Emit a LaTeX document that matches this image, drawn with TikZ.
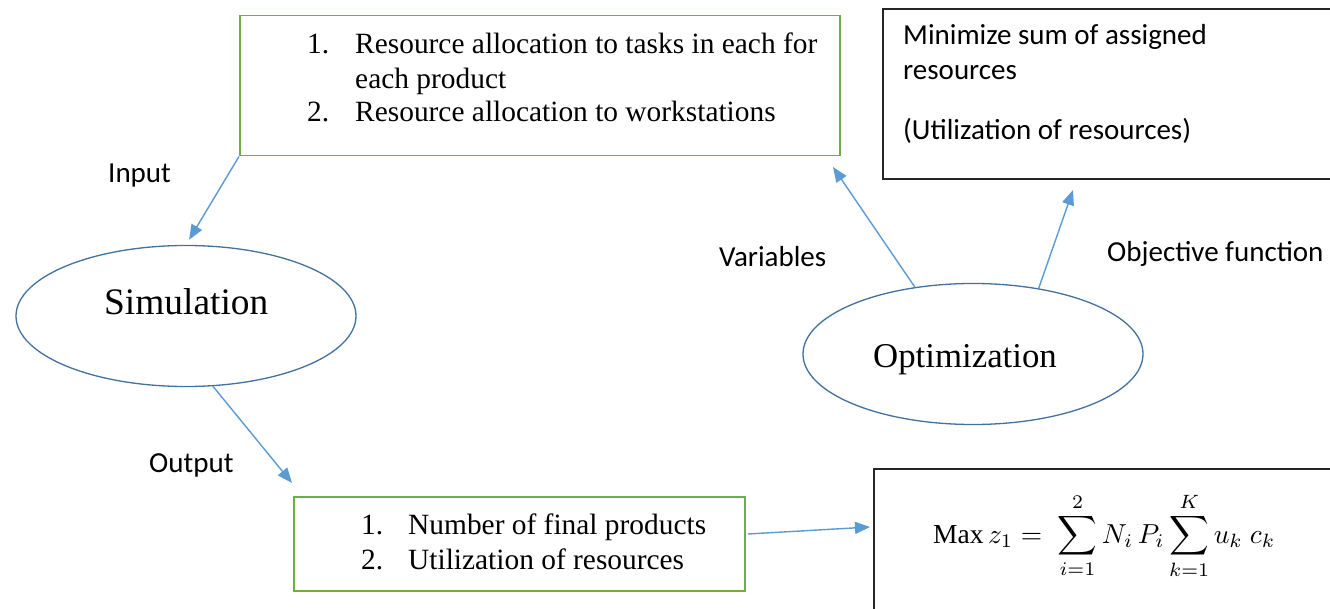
\documentclass[tikz,border=0pt]{standalone}
\usepackage{fontspec}
\setmainfont{Liberation Serif}
\newfontfamily\carlito{Carlito}
\usetikzlibrary{shapes.geometric,arrows.meta}
\definecolor{boxgreen}{RGB}{112,173,71}
\definecolor{arrblue}{RGB}{91,155,213}
\definecolor{ellblue}{RGB}{65,113,156}
\tikzset{
  greenbox/.style={draw=boxgreen, line width=1.5pt, rectangle, inner sep=0pt, anchor=north west},
  blackbox/.style={draw=black!85, line width=1.8pt, rectangle, inner sep=0pt, anchor=north west},
  ell/.style={draw=ellblue, line width=1.3pt, ellipse, inner sep=0pt, minimum width=340pt, minimum height=141pt},
  arr/.style={draw=arrblue, line width=1.4pt, -{Triangle[length=15pt,width=12pt]}},
  serif/.style={font=\fontsize{29.4}{35}\selectfont, inner sep=0pt, anchor=base west},
  sans/.style={font=\carlito\fontsize{29}{35}\selectfont, inner sep=0pt, anchor=base west},
  bigsim/.style={font=\fontsize{37.4}{44}\selectfont, inner sep=0pt, anchor=base west},
  bigopt/.style={font=\fontsize{34.8}{44}\selectfont, inner sep=0pt, anchor=base west},
}
\begin{document}
\begin{tikzpicture}[x=1pt,y=-1pt]
\useasboundingbox (0,0) rectangle (1330,609);
\clip (0,0) rectangle (1330,609);
\fill[white] (0,0) rectangle (1330,609);

% boxes
\node[greenbox, minimum width=600pt, minimum height=140pt] (varbox) at (239,15) {};
\node[blackbox, minimum width=500pt, minimum height=170pt] (objbox) at (882,8) {};
\node[greenbox, minimum width=451pt, minimum height=94pt] (outbox) at (293,496) {};
\node[blackbox, minimum width=600pt, minimum height=300pt] (formbox) at (873,468) {};

% ellipses
\node[ell] (sim) at (186,316) {};
\node[ell] (opt) at (973,354) {};

% texts in top green box
\node[serif] (v1n) at (307,54) {1.};
\node[serif] (v1t) at (355,54) {Resource allocation to tasks in each for};
\node[serif] (v1u) at (355,89) {each product};
\node[serif] (v2n) at (307,122) {2.};
\node[serif] (v2t) at (355,122) {Resource allocation to workstations};

% texts in objective box
\node[sans] (o1) at (903,45) {Minimize sum of assigned};
\node[sans] (o2) at (903,80) {resources};
\node[sans] (o3) at (903,140) {(Utilization of resources)};

% texts in output box
\node[serif] (p1n) at (361,534) {1.};
\node[serif] (p1t) at (408,534) {Number of final products};
\node[serif] (p2n) at (361,569) {2.};
\node[serif] (p2t) at (408,569) {Utilization of resources};

% ellipse texts
\node[bigsim] (simt) at (104,315) {Simulation};
\node[bigopt] (optt) at (873,367) {Optimization};

% formula
\node[inner sep=0pt, anchor=base west] (form) at (933,543)
  {\scalebox{2.75}{$\displaystyle \mathrm{Max}\, z_1 = \;\sum_{i=1}^{2} N_i\, P_i \sum_{k=1}^{K} u_k\ c_k$}};

% labels
\node[sans] (lin) at (108,183) {Input};
\node[sans] (lout) at (149,472) {Output};
\node[sans] (lvar) at (719,267) {Variables};
\node[sans] (lobj) at (1107,262) {Objective function};

% free ends
\coordinate (outEnd) at (292,483);
\coordinate (varEnd) at (833,167);
\coordinate (objEnd) at (1073,190);
\coordinate (formEnd) at (870,527);
\coordinate (outStart) at (748,534);

% connectors
\draw[arr, shorten >=6pt] (varbox.south west) -- (sim.north);
\draw[arr] (sim.-69) -- (outEnd);
\draw[arr] (opt.131) -- (varEnd);
\draw[arr] (opt.45) -- (objEnd);
\draw[arr] (outStart) -- (formEnd);
\end{tikzpicture}
\end{document}
